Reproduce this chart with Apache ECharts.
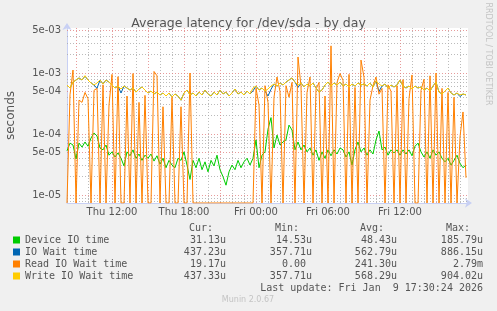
<!DOCTYPE html>
<html><head><meta charset="utf-8">
<script src="https://cdn.jsdelivr.net/npm/echarts@6/dist/echarts.min.js"></script>
<style>html,body{margin:0;padding:0;background:#f0f0f0;}#c{width:497px;height:311px;}</style>
</head><body><div id="c"></div>
<script>
// ---- data (microseconds, one sample every 15 minutes from Thu 08:15) ----
const seriesNames = ['Device IO time', 'IO Wait time', 'Read IO Wait time', 'Write IO Wait time'];
const seriesColors = ['#00cc00', '#0066b3', '#ff8000', '#ffcc00'];

const deviceIO = [53,71,66,39,71,61,74,63,86,104,
 93,59,55,66,45,51,42,49,40,30,
 51,44,55,40,47,37,45,40,47,36,
 44,32,40,28,37,31,28,40,37,51,
 31,18,37,28,40,26,35,24,37,30,
 45,26,20,14.5,24,31,26,37,28,35,
 40,31,40,80,28,45,51,120,185.8,59,
 96,66,74,80,140,116,55,74,55,66,
 51,59,45,55,37,51,40,55,44,55,
 47,59,55,42,51,31,55,74,51,59,
 45,55,47,80,112,55,61,45,55,49,
 55,45,55,47,55,44,63,71,51,42,
 51,40,55,45,51,40,35,40,31,37,
 45,33,28,31.13];

const ioWait = [636,568,710,768,830,768,886,768,686,636,
 560,768,660,768,710,636,568,612,470,612,
 568,526,568,487,547,590,526,470,506,453,
 487,436,470,420,470,404,453,420,358,470,
 526,436,470,420,487,436,526,453,420,487,
 436,526,453,487,420,470,547,453,487,436,
 506,453,510,612,526,568,506,420,540,660,
 612,686,636,710,768,830,710,580,686,590,
 660,612,686,568,487,526,636,710,612,686,
 636,710,612,660,590,660,612,686,636,660,
 612,686,590,740,500,612,660,568,636,590,
 636,768,612,568,612,547,612,568,590,526,
 568,506,612,710,487,453,506,568,470,436,
 470,410,453,437.23];

const readIOWait = [0,440,1120,0,360,330,480,380,0,520,
 560,0,640,0,300,950,0,870,0,0,
 420,0,980,0,330,0,430,0,0,1060,
 900,0,280,0,0,400,0,0,280,0,
 0,1000,0,0,0,0,0,0,0,0,
 0,0,0,0,0,0,0,0,0,0,
 0,0,0,560,300,0,620,330,0,400,
 860,500,0,620,400,700,0,1830,600,0,
 480,860,0,540,700,0,420,0,2790,0,
 700,980,760,0,950,0,580,0,1630,850,
 0,360,620,860,450,560,0,640,500,0,
 620,0,780,0,380,930,0,0,520,790,
 0,900,0,1000,0,560,0,480,0,400,
 0,90,230,19.17];

const writeIOWait = [636,568,710,768,830,768,904,768,686,636,
 686,768,660,768,710,636,568,612,547,612,
 568,526,568,487,547,590,526,470,506,453,
 487,436,470,420,470,404,453,420,358,470,
 526,436,470,420,487,436,526,453,420,487,
 436,526,453,487,420,470,547,453,487,436,
 506,453,568,612,526,568,506,547,612,660,
 612,686,636,710,768,830,710,636,686,590,
 660,612,686,568,487,526,636,710,612,686,
 636,710,612,660,590,660,612,686,636,660,
 612,686,590,740,660,612,660,568,636,590,
 636,768,612,568,612,547,612,568,590,526,
 568,506,612,710,487,453,506,568,470,436,
 470,436,453,437.33];

const statHeaders = ['Cur:', 'Min:', 'Avg:', 'Max:'];
const statCur = ['31.13u', '437.23u', '19.17u', '437.33u'];
const statMin = ['14.53u', '357.71u', '0.00 ', '357.71u'];
const statAvg = ['48.43u', '562.79u', '241.30u', '568.29u'];
const statMax = ['185.79u', '886.15u', '2.79m', '904.02u'];

const yMajorVals = [5e-3, 1e-3, 5e-4, 1e-4, 5e-5, 1e-5];
const yMajorLabels = ['5e-03', '1e-03', '5e-04', '1e-04', '5e-05', '1e-05'];
const yMinorVals = [4e-3,3e-3,2e-3, 9e-4,8e-4,7e-4,6e-4,4e-4,3e-4,2e-4,
  9e-5,8e-5,7e-5,6e-5,4e-5,3e-5,2e-5, 9e-6,8e-6];
const xMajorLabels = ['Thu 12:00', 'Thu 18:00', 'Fri 00:00', 'Fri 06:00', 'Fri 12:00'];
const xMajorTimes = [new Date(2026,0,8,12,0).getTime(), new Date(2026,0,8,18,0).getTime(),
  new Date(2026,0,9,0,0).getTime(), new Date(2026,0,9,6,0).getTime(), new Date(2026,0,9,12,0).getTime()];

const T0 = new Date(2026,0,8,8,15).getTime();
const STEP = 15*60*1000;
const X_MIN = T0, X_MAX = new Date(2026,0,9,17,40).getTime();
const Y_MIN = 7.4e-6, Y_MAX = 5.47e-3;

// ---- build ----
const HOUR = 3600*1000;
const xMinorTimes = [], xMidTimes = [];
for (let t = new Date(2026,0,8,9,0).getTime(); t <= new Date(2026,0,9,17,0).getTime(); t += HOUR) {
  if (xMajorTimes.includes(t)) continue;
  if (new Date(t).getHours() % 3 === 0) xMidTimes.push(t); else xMinorTimes.push(t);
}
function pairs(arr) { return arr.map((v, i) => [T0 + i*STEP, v === 0 ? Y_MIN : v*1e-6]); }

const TXT = '#555';
const minorStyle = { color: 'rgba(170,170,170,0.8)', type: [1,2], width: 1 };
const majorStyle = { color: 'rgba(225,130,130,0.8)', type: [1,2], width: 1 };
const lblFont = { color: TXT, fontSize: 10, fontFamily: 'DejaVu Sans' };

const dataSeries = [deviceIO, ioWait, readIOWait, writeIOWait].map((arr, k) => ({
  type: 'line', name: seriesNames[k], data: pairs(arr), showSymbol: false, symbol: 'none',
  color: seriesColors[k], lineStyle: { width: 1, color: seriesColors[k] },
  z: 3, clip: true, animation: false, silent: true
}));

// grid lines drawn on a hidden linear axis that spans log10 of the log axis range
const gridSeries = {
  type: 'line', name: '_grid', data: [], z: 1, animation: false, silent: true, yAxisIndex: 1,
  markLine: {
    silent: true, symbol: 'none', z: 1, animation: false,
    data: [
      ...yMinorVals.map(v => ({ yAxis: Math.log10(v), lineStyle: minorStyle, label: { show: false } })),
      ...xMinorTimes.map(t => ({ xAxis: t, lineStyle: minorStyle, label: { show: false } })),
      ...xMidTimes.map(t => ({ xAxis: t, lineStyle: majorStyle, label: { show: false } })),
      ...yMajorVals.map((v, i) => ({ yAxis: Math.log10(v), lineStyle: majorStyle,
        label: { show: true, position: 'start', distance: 6, formatter: yMajorLabels[i], ...lblFont } })),
      ...xMajorTimes.map((t, i) => ({ xAxis: t, lineStyle: majorStyle,
        label: { show: true, position: 'start', distance: 4, formatter: xMajorLabels[i], ...lblFont } }))
    ]
  }
};

const graphics = [];
const colRight = [226, 312, 397, 483];
const rowY = [240, 252, 264, 276];
const mono = '10px "DejaVu Sans Mono"';
[statCur, statMin, statAvg, statMax].forEach((col, c) => {
  graphics.push({ type: 'text', x: colRight[c] - 13, y: 228, silent: true,
    style: { text: statHeaders[c], font: mono, fill: TXT, align: 'right', verticalAlign: 'middle' } });
  col.forEach((s, r) => graphics.push({ type: 'text', x: colRight[c], y: rowY[r], silent: true,
    style: { text: s, font: mono, fill: TXT, align: 'right', verticalAlign: 'middle' } }));
});
graphics.push({ type: 'text', x: 483, y: 288, silent: true,
  style: { text: 'Last update: Fri Jan  9 17:30:24 2026', font: mono, fill: TXT, align: 'right', verticalAlign: 'middle' } });
graphics.push({ type: 'text', x: 248, y: 300, silent: true,
  style: { text: 'Munin 2.0.67', font: '8px "DejaVu Sans"', fill: '#c4c4c4', align: 'center', verticalAlign: 'middle' } });
graphics.push({ type: 'text', x: 488, y: 54, rotation: -Math.PI/2, silent: true,
  style: { text: 'RRDTOOL / TOBI OETIKER', font: '8px "DejaVu Sans"', fill: '#c4c4c4', align: 'center', verticalAlign: 'middle' } });

const axisLineStyle = { color: '#c8d0f4', width: 1 };
const chart = echarts.init(document.getElementById('c'), null, { renderer: 'canvas' });
chart.setOption({
  backgroundColor: '#f0f0f0',
  animation: false,
  title: { text: 'Average latency for /dev/sda - by day', left: 'center', top: 12,
    textStyle: { fontFamily: 'DejaVu Sans', fontSize: 12.5, fontWeight: 'normal', color: TXT } },
  grid: { left: 67, top: 28, width: 401, height: 175, show: true, backgroundColor: '#ffffff', borderWidth: 0,
    containLabel: false, outerBoundsMode: 'none' },
  xAxis: { type: 'time', min: X_MIN, max: X_MAX,
    axisLabel: { show: false }, axisTick: { show: false }, splitLine: { show: false },
    axisLine: { show: true, onZero: false, symbol: ['none', 'arrow'], symbolSize: [7, 7], symbolOffset: [0, 4],
      lineStyle: axisLineStyle } },
  yAxis: [
    { type: 'log', logBase: 10, min: Y_MIN, max: Y_MAX,
      name: 'seconds', nameLocation: 'middle', nameGap: 50, nameRotate: 90,
      nameTextStyle: { color: TXT, fontSize: 12, fontFamily: 'DejaVu Sans' },
      axisLabel: { show: false }, axisTick: { show: false }, splitLine: { show: false },
      axisLine: { show: true, onZero: false, symbol: ['none', 'arrow'], symbolSize: [7, 7], symbolOffset: [0, 5],
        lineStyle: axisLineStyle } },
    { type: 'value', min: Math.log10(Y_MIN), max: Math.log10(Y_MAX), show: false, position: 'left',
      axisLine: { show: false, onZero: false }, splitLine: { show: false } }
  ],
  legend: { data: seriesNames, orient: 'vertical', left: 13, top: 234, icon: 'rect',
    itemWidth: 7, itemHeight: 7, itemGap: 0, padding: 0, selectedMode: false,
    textStyle: { fontFamily: 'DejaVu Sans Mono', fontSize: 10, color: TXT, lineHeight: 12 } },
  graphic: graphics,
  series: [gridSeries, ...dataSeries]
});
</script></body></html>
